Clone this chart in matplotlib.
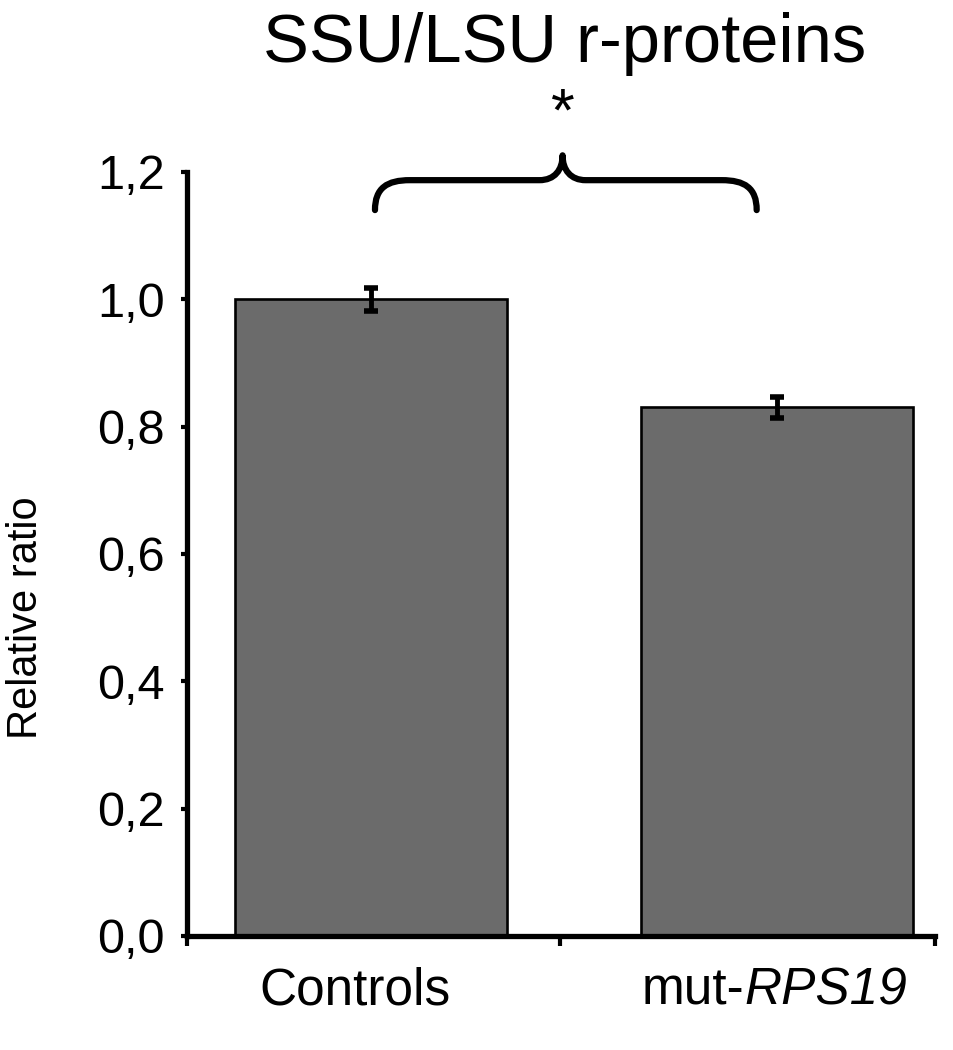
import matplotlib
matplotlib.use("Agg")
import matplotlib.pyplot as plt
from matplotlib.path import Path
from matplotlib.patches import PathPatch

plt.rcParams['font.family'] = ['Liberation Sans', 'DejaVu Sans']

groups = ["Controls", "mut-"]
groups_italic = ["", "RPS19"]
values = [1.0, 0.83]
errors = [0.018, 0.017]
yticks = [0.0, 0.2, 0.4, 0.6, 0.8, 1.0, 1.2]
ytick_labels = ["0,0", "0,2", "0,4", "0,6", "0,8", "1,0", "1,2"]
title = "SSU/LSU r-proteins"
ylabel = "Relative ratio"

fig = plt.figure(figsize=(9.54, 10.5), dpi=100)
ax = fig.add_axes([0.196, 0.1086, 0.784, 0.7277])

pos = [0, 1]
ax.bar(pos, values, width=0.67, color="#6b6b6b", edgecolor="black", linewidth=1.9, zorder=2)
ax.errorbar(pos, values, yerr=errors, fmt="none", ecolor="black",
            elinewidth=3.5, capsize=5, capthick=4, zorder=3)

ax.set_xlim(-0.453, 1.389)
ax.set_ylim(0, 1.2)

for s in ["top", "right"]:
    ax.spines[s].set_visible(False)
ax.spines["left"].set_linewidth(3.8)
ax.spines["bottom"].set_linewidth(3.8)

ax.set_yticks(yticks)
ax.set_yticklabels(ytick_labels, fontsize=35)
ax.tick_params(axis="y", direction="out", length=4, width=3, pad=12)

ax.set_xticks([-0.453, 0.466, 1.389])
ax.set_xticklabels([])
ax.tick_params(axis="x", which="major", direction="out", length=7, width=3)

# category labels, with the gene name in italics
label_y = -0.09
for p, plain, ital in zip(pos, groups, groups_italic):
    if ital:
        t1 = ax.text(p - 0.334, label_y, plain, fontsize=37, ha="left", va="baseline",
                     transform=ax.get_xaxis_transform())
        ax.annotate(ital, xy=(1, 0), xycoords=t1, fontsize=37, style="italic",
                    ha="left", va="bottom")
    else:
        ax.text(p - 0.04, label_y, plain, fontsize=37, ha="center", va="baseline",
                transform=ax.get_xaxis_transform())

fig.text(0.592, 1 - 62 / 1050, title, fontsize=49.5, ha="center", va="baseline")
fig.text(26 / 954, 1 - 618 / 1050, ylabel, fontsize=30, rotation=90,
         ha="center", va="center")

# significance brace between the two groups
xl, xr = 0.01, 0.95
xm = (xl + xr) / 2 - 0.008
yb, yh, yt = 1.14, 1.187, 1.226
rx, mx = 0.086, 0.057
verts = [
    (xl, yb), (xl, yh - 0.012), (xl + 0.03, yh), (xl + rx, yh),
    (xm - mx, yh),
    (xm - 0.02, yh), (xm, yh + 0.016), (xm, yt),
    (xm, yh + 0.016), (xm + 0.02, yh), (xm + mx, yh),
    (xr - rx, yh),
    (xr - 0.03, yh), (xr, yh - 0.012), (xr, yb),
]
codes = [Path.MOVETO, Path.CURVE4, Path.CURVE4, Path.CURVE4,
         Path.LINETO,
         Path.CURVE4, Path.CURVE4, Path.CURVE4,
         Path.CURVE4, Path.CURVE4, Path.CURVE4,
         Path.LINETO,
         Path.CURVE4, Path.CURVE4, Path.CURVE4]
brace = PathPatch(Path(verts, codes), facecolor="none", edgecolor="black",
                  linewidth=4.5, capstyle="round", joinstyle="round", clip_on=False)
ax.add_patch(brace)
ax.text(xm, 1.29, "*", fontsize=44, ha="center", va="center", clip_on=False)

fig.savefig("out.png", dpi=100)
plt.close(fig)
